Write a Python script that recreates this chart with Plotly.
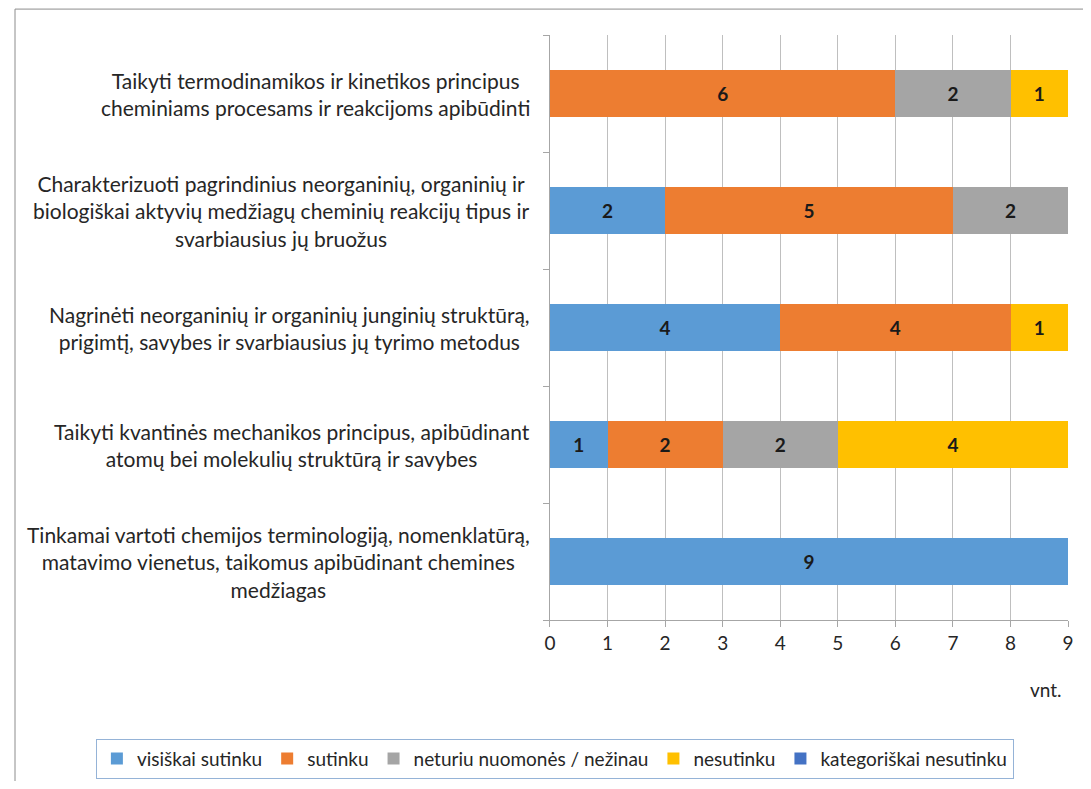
import plotly.graph_objects as go

categories = [
    "Taikyti termodinamikos ir kinetikos principus<br>cheminiams procesams ir reakcijoms apibūdinti",
    "Charakterizuoti pagrindinius neorganinių, organinių ir<br>biologiškai aktyvių medžiagų cheminių reakcijų tipus ir<br>svarbiausius jų bruožus",
    "Nagrinėti neorganinių ir organinių junginių struktūrą,<br>prigimtį, savybes ir svarbiausius jų tyrimo metodus",
    "Taikyti kvantinės mechanikos principus, apibūdinant<br>atomų bei molekulių struktūrą ir savybes",
    "Tinkamai vartoti chemijos terminologiją, nomenklatūrą,<br>matavimo vienetus, taikomus apibūdinant chemines<br>medžiagas",
]
series_names = ["visiškai sutinku", "sutinku", "neturiu nuomonės / nežinau", "nesutinku", "kategoriškai nesutinku"]
visiskai_sutinku = [None, 2, 4, 1, 9]
sutinku = [6, 5, 4, 2, None]
neturiu_nuomones = [2, 2, None, 2, None]
nesutinku = [1, None, 1, 4, None]
kategoriskai_nesutinku = [None, None, None, None, None]
x_ticks = list(range(0, 10))

colors = ["#5B9BD5", "#ED7D31", "#A5A5A5", "#FFC000", "#4472C4"]
series_values = [visiskai_sutinku, sutinku, neturiu_nuomones, nesutinku, kategoriskai_nesutinku]

FONT = "Lato, Carlito, Calibri, sans-serif"

fig = go.Figure()
for name, vals, col in zip(series_names, series_values, colors):
    fig.add_trace(go.Bar(
        y=categories, x=vals, name=name, orientation="h",
        marker=dict(color=col, line=dict(width=0)),
        text=vals, texttemplate="<b>%{x}</b>", textposition="inside",
        insidetextanchor="middle",
        textfont=dict(family=FONT, size=19, color="#1a1a1a"),
        hoverinfo="x+name",
    ))

OFF = 8  # page body margin
W, H = 1091 - 2 * OFF, 789 - 2 * OFF


def px(x):
    return x - OFF


ml, mr, mt, mb = 2, 2, px(35), H - px(622)
pw = W - ml - mr
ph = H - mt - mb


def xp(x):
    return (px(x) - ml) / pw


def yp(y):
    return 1 - (px(y) - mt) / ph


annotations = []
for c in categories:
    annotations.append(dict(
        x=xp(532), xref="paper", y=c, yref="y",
        text=c, showarrow=False, xanchor="right", yanchor="middle", align="center",
        font=dict(family=FONT, size=21, color="#262626"),
    ))
annotations.append(dict(
    x=xp(1070), xref="paper", y=yp(692), yref="paper",
    text="vnt.", showarrow=False, xanchor="right", yanchor="middle",
    font=dict(family=FONT, size=19, color="#262626"),
))

fig.update_layout(
    width=W, height=H,
    margin=dict(l=ml, r=mr, t=mt, b=mb),
    paper_bgcolor="white", plot_bgcolor="white",
    barmode="stack", bargap=0.6,
    font=dict(family=FONT, size=18, color="#262626"),
    xaxis=dict(
        domain=[xp(550), xp(1074)],
        range=[0, 9], tickvals=x_ticks, showgrid=True, gridcolor="#BFBFBF", gridwidth=1,
        showline=True, linecolor="#A6A6A6", linewidth=1,
        ticks="outside", ticklen=6, tickcolor="#A6A6A6",
        tickfont=dict(family=FONT, size=19, color="#262626"),
        zeroline=False, fixedrange=True,
    ),
    yaxis=dict(
        categoryorder="array", categoryarray=categories[::-1],
        showticklabels=False, showline=True, linecolor="#A6A6A6", linewidth=1,
        ticks="outside", ticklen=6, tickcolor="#A6A6A6", tickson="boundaries",
        showgrid=False, fixedrange=True,
    ),
    legend=dict(
        orientation="h", x=xp(555), xanchor="center",
        y=yp(761), yanchor="middle",
        bordercolor="#95B3D7", borderwidth=1, bgcolor="white",
        font=dict(family=FONT, size=19, color="#262626"),
        traceorder="normal", itemwidth=30,
    ),
    annotations=annotations,
    shapes=[dict(type="rect", xref="paper", yref="paper",
                 x0=xp(9), x1=xp(1110),
                 y0=yp(810), y1=yp(9),
                 line=dict(color="#8C8C8C", width=1), fillcolor="rgba(0,0,0,0)",
                 layer="below")],
    showlegend=True,
)

fig.write_html("out.html")
